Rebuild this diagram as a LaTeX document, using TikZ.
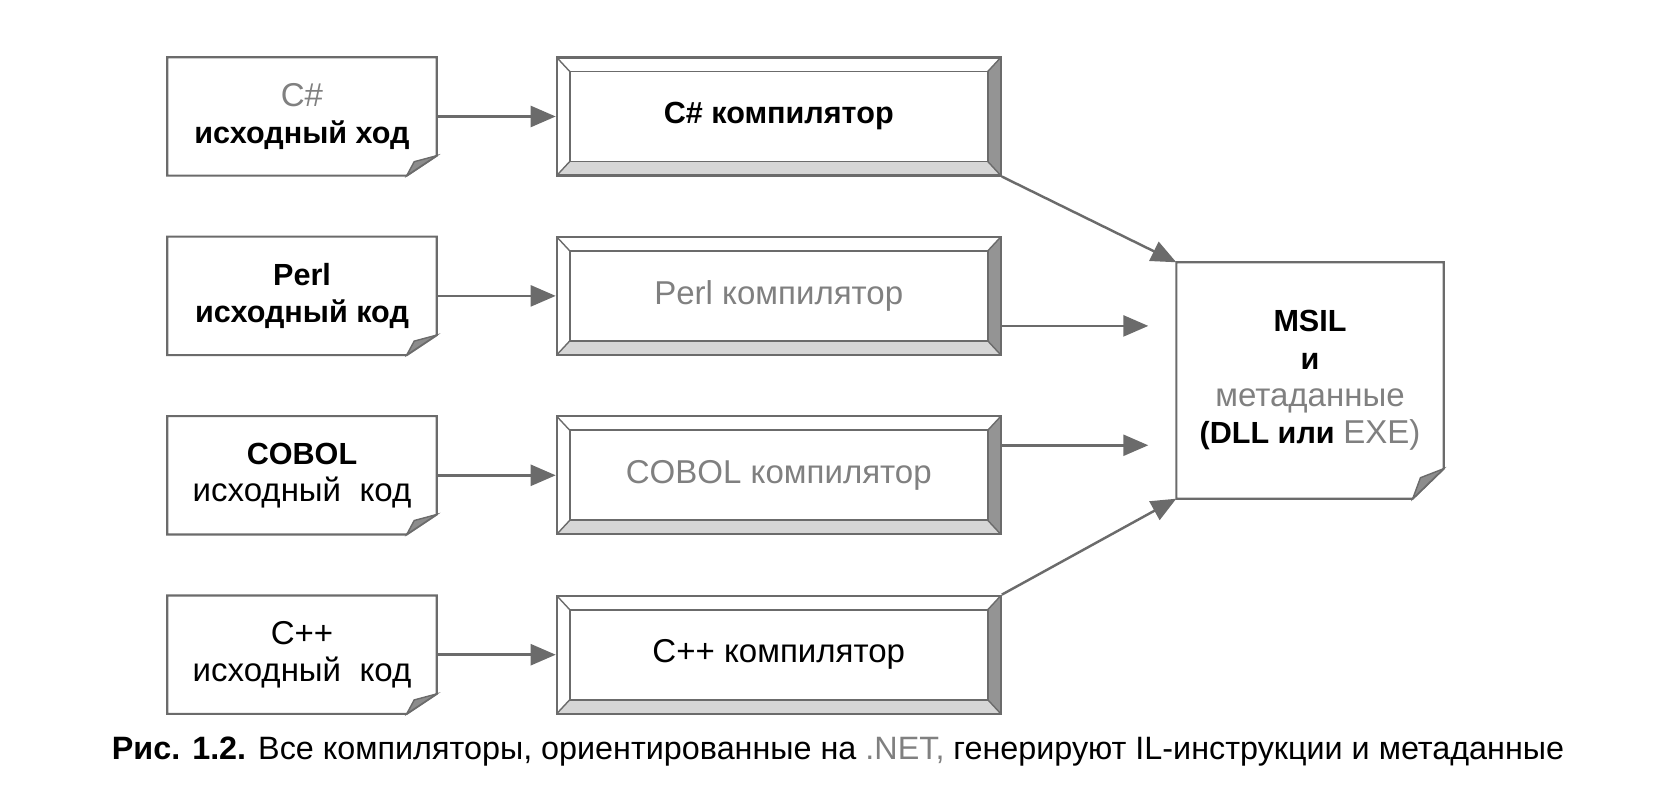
\documentclass[tikz,border=0pt]{standalone}
\usepackage{fontspec}
\setmainfont{Liberation Sans}
\usetikzlibrary{calc,positioning,arrows.meta}

\definecolor{linegray}{gray}{0.42}
\definecolor{textgray}{gray}{0.5}
\definecolor{foldgray}{gray}{0.55}
\definecolor{bevelgray}{gray}{0.58}
\definecolor{bevellight}{gray}{0.84}

\newcommand{\bftext}[1]{{\fontsize{8.7}{10.6}\selectfont\bfseries #1}}

\begin{document}
\begin{tikzpicture}[x=0.1mm, y=-0.1mm,
    font=\fontsize{9.4}{10.6}\selectfont,
    srcbox/.style={minimum width=26.8mm, minimum height=11.7mm, inner sep=0pt, align=center},
    compiler/.style={draw=linegray, line width=0.6pt, minimum width=44.4mm, minimum height=11.8mm,
      inner sep=0pt, align=center,
      path picture={
        \fill[bevelgray] (path picture bounding box.north east) -- (path picture bounding box.south east)
          -- ($(path picture bounding box.south east)+(-13,-14)$) -- ($(path picture bounding box.north east)+(-13,14)$) -- cycle;
        \fill[bevellight] (path picture bounding box.south west) -- (path picture bounding box.south east)
          -- ($(path picture bounding box.south east)+(-13,-14)$) -- ($(path picture bounding box.south west)+(13,-14)$) -- cycle;
        \draw[linegray, line width=0.5pt] ($(path picture bounding box.south west)+(13,-14)$) rectangle ($(path picture bounding box.north east)+(-13,14)$);
        \draw[linegray, line width=0.4pt] (path picture bounding box.north west) -- ++(13,14)
          (path picture bounding box.south west) -- ++(13,-14)
          (path picture bounding box.north east) -- ++(-13,14)
          (path picture bounding box.south east) -- ++(-13,-14);
      }},
    boxline/.style={draw=linegray, line width=0.6pt},
    flow/.style={draw=linegray, line width=0.7pt, -{Triangle[length=2.5mm, width=2.1mm]}}
  ]
  \useasboundingbox (0,0) rectangle (1656,797);

  % source files
  \node[srcbox] (src_cs) at (302,116.5) {{\color{textgray}C\#}\\ \bftext{исходный ход}};
  \node[srcbox, below=6.1mm of src_cs] (src_perl) {\bftext{Perl}\\ \bftext{исходный код}};
  \node[srcbox, below=6.1mm of src_perl] (src_cobol) {\bftext{COBOL}\\ исходный\ \ код};
  \node[srcbox, below=6.1mm of src_cobol] (src_cpp) {C++\\ исходный\ \ код};

  % compilers
  \node[compiler, right=11.9mm of src_cs] (cmp_cs) {\bftext{C\# компилятор}};
  \node[compiler, right=11.9mm of src_perl] (cmp_perl) {\color{textgray}Perl компилятор};
  \node[compiler, right=11.9mm of src_cobol] (cmp_cobol) {\color{textgray}COBOL компилятор};
  \node[compiler, right=11.9mm of src_cpp] (cmp_cpp) {C++ компилятор};

  % result
  \node[srcbox, minimum width=26.6mm, minimum height=23.5mm] (msil) at (1310,380.5)
    {\bftext{MSIL}\\ \bftext{и}\\ {\color{textgray}метаданные}\\ \bftext{(DLL или }{\color{textgray}EXE)}};

  % page outlines with folded corner
  \foreach \n/\v/\h in {src_cs/20/30, src_perl/20/30, src_cobol/20/30, src_cpp/20/30, msil/30/31} {
    \draw[boxline] (\n.north west) -- (\n.north east) -- ($(\n.south east)+(0,-\v)$)
      -- ($(\n.south east)+(-\h,0)$) -- (\n.south west) -- cycle;
    \filldraw[draw=linegray, fill=foldgray, line width=0.4pt] ($(\n.south east)+(0,-\v)$)
      -- ($(\n.south east)+(-\h,0)$) -- ($(\n.south east)+(-0.75*\h,-0.7*\v)$) -- cycle;
  }

  \coordinate (perl_out) at ($(cmp_perl.south east)!0.25!(cmp_perl.north east)$);
  \coordinate (perl_in) at ($(msil.west |- perl_out)+(-28,0)$);
  \coordinate (cobol_out) at ($(cmp_cobol.north east)!0.25!(cmp_cobol.south east)$);
  \coordinate (cobol_in) at ($(msil.west |- cobol_out)+(-28,0)$);

  \draw[flow] (src_cs) -- (cmp_cs);
  \draw[flow] (src_perl) -- (cmp_perl);
  \draw[flow] (src_cobol) -- (cmp_cobol);
  \draw[flow] (src_cpp) -- (cmp_cpp);
  \draw[flow] (cmp_cs.south east) -- (msil.north west);
  \draw[flow] (perl_out) -- (perl_in);
  \draw[flow] (cobol_out) -- (cobol_in);
  \draw[flow] (cmp_cpp.north east) -- (msil.south west);

  \node[font=\fontsize{9.2}{11}\selectfont] (caption) at (838,752)
    {\textbf{Рис. 1.2.} Все компиляторы, ориентированные на {\color{textgray}.NET,} генерируют IL-инструкции и метаданные};
\end{tikzpicture}
\end{document}
